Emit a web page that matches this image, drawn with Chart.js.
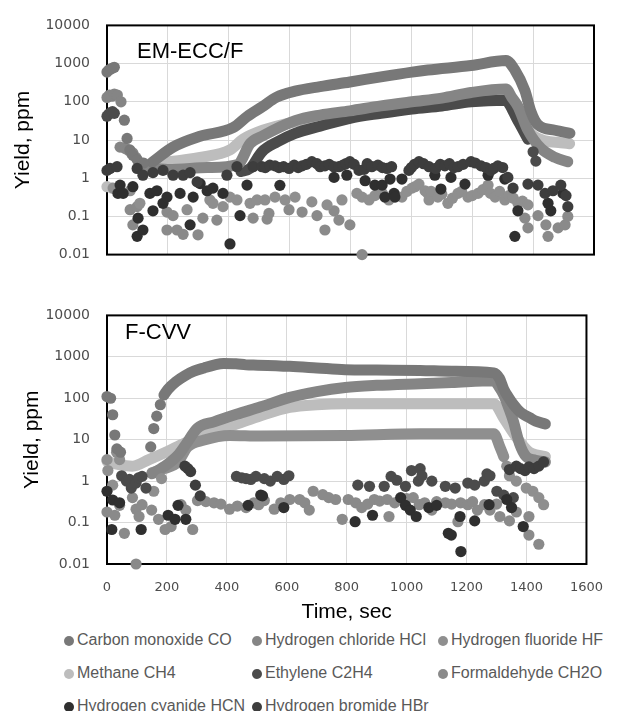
<!DOCTYPE html>
<html>
<head>
<meta charset="utf-8">
<script src="https://cdn.jsdelivr.net/npm/chart.js@4.4.0/dist/chart.umd.min.js"></script>
<style>
  body { margin: 0; background: #fff; width: 619px; height: 711px; overflow: hidden; position: relative; font-family: "Liberation Sans", Arial, sans-serif; }
  canvas { position: absolute; left: 0; }
  #topChart { top: 0; }
  #bottomChart { top: 290px; }
  .panel-label { position: absolute; font-size: 22px; line-height: 22px; color: #000; }
  .legend-item { position: absolute; height: 20px; line-height: 20px; font-size: 16px; color: #595959; white-space: nowrap; }
  .legend-item span { display: inline-block; width: 10px; height: 10px; border-radius: 50%; margin-right: 3px; vertical-align: -1px; }
</style>
</head>
<body>
<canvas id="topChart" width="619" height="280"></canvas>
<canvas id="bottomChart" width="619" height="340"></canvas>
<div class="panel-label" style="left:137px; top:40px;">EM-ECC/F</div>
<div class="panel-label" style="left:125px; top:321px;">F-CVV</div>
<div id="legend"></div>
<script>
// series, in legend order
const seriesNames = ['Carbon monoxide CO', 'Hydrogen chloride HCl', 'Hydrogen fluoride HF', 'Methane CH4',
  'Ethylene C2H4', 'Formaldehyde CH2O', 'Hydrogen cyanide HCN', 'Hydrogen bromide HBr'];
const seriesColors = ['#787878', '#858585', '#8f8f8f', '#bdbdbd', '#4b4b4b', '#8a8a8a', '#2f2f2f', '#3d3d3d'];

const xTicks = [0, 200, 400, 600, 800, 1000, 1200, 1400, 1600];
const yTicks = [0.01, 0.1, 1, 10, 100, 1000, 10000];
const yTickLabels = ['0.01', '0.1', '1', '10', '100', '1000', '10000'];

// ---- EM-ECC/F panel, [time sec, ppm] ----
const emCODots = [[0,600],[6,680],[12,720],[18,760],[24,800],[57,33],[66,11],[75,5.5],[85,4],[100,3],[120,2.5]];
const emCOBand = [[148,2.6],[217,6.5],[306,12.5],[414,21],[460,41],[512,76],[556,131],[618,190],[700,250],[798,330],
  [900,450],[1002,600],[1054,680],[1196,890],[1311,1200],[1340,680],[1373,195],[1393,55],[1416,25],[1472,18],[1521,15]];
const emHClDots = [[0,130],[8,150],[16,140],[24,160],[34,150],[46,100],[43,6.5],[60,6],[69,5.5],[80,4.5],[85,4.6],[95,3.5]];
const emHClBand = [[110,2.0],[200,1.7],[330,1.9],[430,2.3],[470,8],[509,12.5],[618,32],[700,45],[798,58],[900,78],
  [1002,100],[1100,125],[1196,175],[1311,215],[1330,130],[1350,76],[1383,18],[1426,6],[1472,3.5],[1514,2.7]];
const emMethaneDots = [[0,0.6],[15,0.55]];
const emMethaneBand = [[150,2.4],[306,3.5],[404,5.5],[447,10.5],[512,18],[618,30],[700,38],[800,48],[1000,75],
  [1200,115],[1305,140],[1340,60],[1370,25],[1400,13],[1440,9.5],[1491,8.5],[1520,8]];
const emEthyleneDots = [[0,42],[6,48],[12,52],[18,55],[24,50],[1400,4.9],[1409,2.8]];
const emEthyleneBand = [[440,1.5],[470,1.8],[509,4.9],[560,9],[618,15],[700,23],[798,37],[900,50],[1002,65],
  [1100,78],[1196,100],[1307,110],[1350,32],[1383,10.5]];
const emHFDots = [[20,0.55],[76,0.47],[108,0.22],[263,0.15],[338,0.27],[348,0.22],[381,0.18],[404,0.32],[427,0.27],
  [470,0.22],[493,0.27],[519,0.27],[552,0.32],[585,0.27],[618,0.32],[673,0.24],[723,0.2],[772,0.27],[821,0.4],
  [838,0.32],[861,0.27],[880,0.35],[893,0.47],[905,0.4],[926,0.27],[945,0.38],[969,0.32],[985,0.45],[1002,0.55],
  [1012,0.6],[1025,0.7],[1045,0.47],[1054,0.4],[1058,0.27],[1065,0.45],[1087,0.32],[1100,0.38],[1120,0.22],
  [1135,0.3],[1153,0.4],[1165,0.45],[1186,0.32],[1200,0.35],[1219,0.4],[1235,0.5],[1252,0.66],[1260,0.4],
  [1275,0.32],[1290,0.45],[1307,0.27],[1320,0.35],[1335,0.3],[1350,0.22],[1365,0.25],[1383,0.2]];
const emCH2ODots = [[76,0.15],[85,0.06],[99,0.18],[197,0.13],[217,0.105],[197,0.044],[230,0.044],[250,0.034],
  [299,0.033],[315,0.09],[361,0.08],[480,0.09],[526,0.085],[532,0.12],[598,0.15],[641,0.13],[690,0.105],
  [716,0.044],[746,0.14],[762,0.08],[798,0.06],[838,0.01],[1373,0.09],[1383,0.05],[1416,0.105],[1442,0.06],
  [1449,0.03],[1482,0.05],[1505,0.06],[1514,0.1]];
const emHCNDots = [[36,0.4],[43,0.66],[53,0.4],[85,0.6],[99,0.03],[102,0.09],[118,0.044],[141,0.4],[151,0.14],
  [164,0.47],[184,0.22],[197,0.32],[240,0.4],[273,0.06],[283,0.32],[306,0.72],[329,0.47],[348,0.55],[381,0.4],
  [404,0.019],[437,0.105],[460,0.66],[568,0.65],[746,1.05],[788,1.2],[848,0.86],[880,0.66],[904,0.66],[913,0.32],
  [930,0.95],[943,0.4],[946,0.32],[969,0.95],[1077,1.2],[1097,0.52],[1130,1.05],[1176,0.7],[1252,1.2],[1307,0.95],
  [1340,0.03],[1350,0.14],[1449,0.22],[1458,0.14],[1498,0.4]];
const emHBrDots = [[0,1.6],[10,1.8],[33,2.0],[99,1.8],[118,1.2],[151,1.4],[184,1.6],[217,1.2],[250,1.2],[273,1.4],
  [296,0.8],[394,1.2],[427,2.0],[480,2.0],[509,2.0],[520,1.9],[535,2.2],[552,2.1],[565,1.9],[580,2.0],[598,1.8],
  [615,2.2],[628,1.9],[641,2.1],[655,2.3],[673,2.7],[690,2.4],[700,2.0],[716,2.1],[730,2.3],[745,2.0],[762,2.0],
  [775,2.2],[785,2.4],[798,2.7],[812,2.3],[828,1.6],[845,1.7],[855,2.4],[870,2.0],[890,2.2],[905,1.9],[920,1.8],
  [935,2.0],[992,1.6],[1000,1.9],[1010,2.3],[1025,2.7],[1040,2.4],[1058,2.0],[1080,1.8],[1095,2.3],[1110,2.1],
  [1125,2.4],[1140,1.9],[1153,2.0],[1170,2.3],[1196,2.7],[1210,2.5],[1229,2.1],[1245,1.9],[1261,1.6],[1270,1.8],
  [1284,2.1],[1300,1.9],[1317,1.05],[1334,0.55],[1383,0.7],[1416,0.66],[1439,0.4],[1465,0.47],[1491,0.66],
  [1508,0.35],[1514,0.18]];

// ---- F-CVV panel ----
const fcCODots = [[0,110],[12,100],[19,40],[26,13],[33,6],[45,5],[146,6.7],[156,18.6],[166,37],[178,70]];
const fcCOBand = [[190,120],[204,166],[230,250],[260,350],[290,450],[324,540],[360,640],[389,690],[430,680],
  [464,640],[503,630],[610,590],[700,540],[795,490],[900,480],[1045,470],[1150,450],[1291,410],[1310,300],
  [1324,165],[1340,105],[1356,71],[1372,52],[1389,41],[1410,34],[1431,28],[1463,24]];
const fcHClBand = [[150,1.5],[200,2.5],[240,4.5],[262,7.5],[302,19],[357,27],[432,41],[513,62],[610,105],[700,145],
  [795,182],[900,205],[1045,225],[1150,240],[1291,265],[1310,180],[1324,120],[1340,60],[1356,28],[1376,8.3],
  [1399,3.9],[1430,3.2],[1463,2.9]];
const fcMethaneBand = [[0,3],[40,2.5],[85,2.3],[140,3.3],[194,4.9],[260,8.3],[334,14],[432,24],[513,38],[610,60],
  [700,70],[795,74],[1045,74],[1291,74],[1324,33],[1366,11.5],[1408,5.1],[1440,4.2],[1463,3.9]];
const fcHFBand = [[150,1.6],[190,2.0],[237,2.9],[269,6.7],[324,9.8],[409,12.6],[513,12.2],[795,12.6],[1045,14],
  [1291,14],[1311,6.7],[1324,3.9]];
const fcHFDots = [[0,3.3],[3,1.8],[32,5],[42,3.3],[19,0.8],[156,0.57],[182,1.15],[1334,2.3],[1343,1.35],[1366,1.0],
  [1399,0.68],[1421,0.57],[1441,0.4],[1457,0.27]];
const fcEthyleneDots = [[49,1.35],[65,1.0],[75,1.1],[81,0.68],[97,0.9],[105,1.2],[117,1.3],[130,0.68],[432,1.3],
  [450,1.2],[464,1.15],[480,1.1],[497,1.3],[525,1.15],[545,1.0],[568,1.3],[590,1.1],[607,1.35],[837,0.8],[876,0.75],
  [925,0.75],[948,1.3],[967,1.05],[996,0.75],[1016,1.8],[1039,1.0],[1045,2.0],[1051,1.35],[1084,1.0],[1129,0.75],
  [1162,0.68],[1204,0.9],[1227,0.8],[1259,1.0],[1268,1.5],[1278,1.35],[1301,0.57],[1324,0.46],[1356,0.4]];
const fcCH2ODots = [[0,0.18],[26,0.15],[42,0.26],[58,0.055],[85,0.4],[97,0.21],[97,0.01],[107,0.14],[117,0.27],
  [149,0.2],[172,0.12],[194,0.068],[214,0.08],[247,0.27],[263,0.2],[286,0.068],[302,0.34],[330,0.32],[357,0.3],
  [380,0.28],[409,0.21],[435,0.25],[464,0.23],[490,0.3],[506,0.27],[525,0.34],[558,0.21],[580,0.3],[610,0.36],
  [643,0.36],[660,0.3],[675,0.2],[688,0.57],[720,0.47],[740,0.4],[763,0.36],[785,0.12],[805,0.36],[830,0.3],
  [850,0.23],[870,0.28],[892,0.36],[910,0.33],[935,0.36],[941,0.14],[960,0.3],[980,0.36],[1000,0.38],[1022,0.4],
  [1042,0.27],[1060,0.3],[1084,0.2],[1100,0.32],[1129,0.3],[1150,0.28],[1171,0.105],[1180,0.3],[1204,0.27],
  [1220,0.32],[1236,0.2],[1260,0.27],[1278,0.2],[1300,0.28],[1311,0.14],[1343,0.11],[1366,0.18],[1408,0.14],
  [1408,0.05],[1441,0.03]];
const fcHCNDots = [[0,0.57],[16,0.068],[19,0.35],[42,0.3],[114,0.068],[204,0.15],[227,0.12],[237,0.26],[263,0.12],
  [471,0.26],[513,0.46],[519,0.44],[590,0.23],[828,0.105],[886,0.15],[980,0.4],[996,0.26],[1012,0.2],[1032,0.14],
  [1074,0.23],[1100,0.26],[1139,0.055],[1149,0.05],[1178,0.14],[1181,0.02],[1227,0.11],[1275,0.27],[1334,0.36],
  [1350,0.23],[1389,0.08]];
const fcHBrDots = [[260,2.3],[270,2.0],[279,1.7],[295,0.8],[311,0.44],[1343,1.9],[1366,2.3],[1380,2.0],[1395,1.8],
  [1408,2.2],[1425,2.0],[1441,2.3],[1457,2.9]];

function pts(arr) {
  return arr.map(([x, y]) => ({ x: x, y: y }));
}

function band(data, i, order) {
  return {
    label: seriesNames[i], data: pts(data), showLine: true,
    borderColor: seriesColors[i], backgroundColor: seriesColors[i],
    borderWidth: 11, pointRadius: 0, pointHoverRadius: 0,
    cubicInterpolationMode: 'monotone', borderCapStyle: 'round', borderJoinStyle: 'round',
    clip: false, order: order
  };
}

function dots(data, i, order) {
  return {
    label: seriesNames[i], data: pts(data), showLine: false,
    backgroundColor: seriesColors[i], borderWidth: 0,
    pointRadius: 5.6, pointHoverRadius: 5.6, clip: false, order: order
  };
}

// black frame round the plot, under the marks
const frame = {
  id: 'frame',
  beforeDatasetsDraw(chart) {
    const { ctx, chartArea: a } = chart;
    ctx.save();
    ctx.strokeStyle = '#000';
    ctx.lineWidth = 2;
    ctx.strokeRect(a.left, a.top, a.right - a.left, a.bottom - a.top);
    ctx.restore();
  }
};

function makeChart(id, datasets, opt) {
  const gridColor = '#d9d9d9';
  new Chart(document.getElementById(id), {
    type: 'scatter',
    data: { datasets: datasets },
    options: {
      responsive: false, animation: false, devicePixelRatio: 1, events: [],
      layout: { padding: { left: 0, right: opt.padRight, top: opt.padTop, bottom: 0 } },
      plugins: { legend: { display: false }, tooltip: { enabled: false } },
      scales: {
        x: {
          type: 'linear', min: 0, max: 1600,
          afterBuildTicks: s => { s.ticks = xTicks.map(v => ({ value: v })); },
          afterFit: s => { s.height = opt.xHeight; },
          grid: { color: gridColor, drawTicks: false },
          border: { display: false },
          ticks: { display: opt.showX, autoSkip: false, maxRotation: 0, padding: 16,
            color: '#4d4d4d', font: { family: 'DejaVu Sans', size: 13 },
            callback: (v, i) => String(xTicks[i]) },
          title: { display: opt.showX, text: 'Time, sec', color: '#000',
            font: { family: 'Liberation Sans', size: 21 }, padding: { top: 0, bottom: 5 } }
        },
        y: {
          type: 'logarithmic', min: 0.01, max: 10000,
          afterBuildTicks: s => { s.ticks = yTicks.map(v => ({ value: v })); },
          afterFit: s => { s.width = 107; },
          grid: { color: gridColor, drawTicks: false },
          border: { display: false },
          ticks: { autoSkip: false, padding: 17, color: '#4d4d4d',
            font: { family: 'DejaVu Sans', size: 14 },
            callback: (v, i) => yTickLabels[i] },
          title: { display: true, text: 'Yield, ppm', color: '#000',
            font: { family: 'Liberation Sans', size: 21 }, padding: { top: opt.yTitlePad, bottom: 0 } }
        }
      }
    },
    plugins: [frame]
  });
}

makeChart('topChart', [
  band(emMethaneBand, 3, 20), band(emEthyleneBand, 4, 19), band(emHClBand, 1, 18), band(emCOBand, 0, 17),
  dots(emMethaneDots, 3, 12), dots(emHFDots, 2, 11), dots(emCH2ODots, 5, 11),
  dots(emCODots, 0, 10), dots(emHClDots, 1, 10), dots(emEthyleneDots, 4, 9),
  dots(emHCNDots, 6, 8), dots(emHBrDots, 7, 7)
], { padRight: 25, padTop: 18, xHeight: 10, showX: false, yTitlePad: 11 });

makeChart('bottomChart', [
  band(fcMethaneBand, 3, 20), band(fcHFBand, 2, 19), band(fcHClBand, 1, 18), band(fcCOBand, 0, 17),
  dots(fcCH2ODots, 5, 11), dots(fcHFDots, 2, 11), dots(fcCODots, 0, 10),
  dots(fcEthyleneDots, 4, 9), dots(fcHCNDots, 6, 8), dots(fcHBrDots, 7, 7)
], { padRight: 19, padTop: 15, xHeight: 66, showX: true, yTitlePad: 20 });

// legend: three columns, three rows
const legendCols = [64, 252, 438];
const legendRows = [630, 663, 696];
const legend = document.getElementById('legend');
seriesNames.forEach((name, i) => {
  const item = document.createElement('div');
  item.className = 'legend-item';
  item.style.left = legendCols[i % 3] + 'px';
  item.style.top = legendRows[Math.floor(i / 3)] + 'px';
  const dot = document.createElement('span');
  dot.style.background = seriesColors[i];
  item.appendChild(dot);
  item.appendChild(document.createTextNode(name));
  legend.appendChild(item);
});
</script>
</body>
</html>
